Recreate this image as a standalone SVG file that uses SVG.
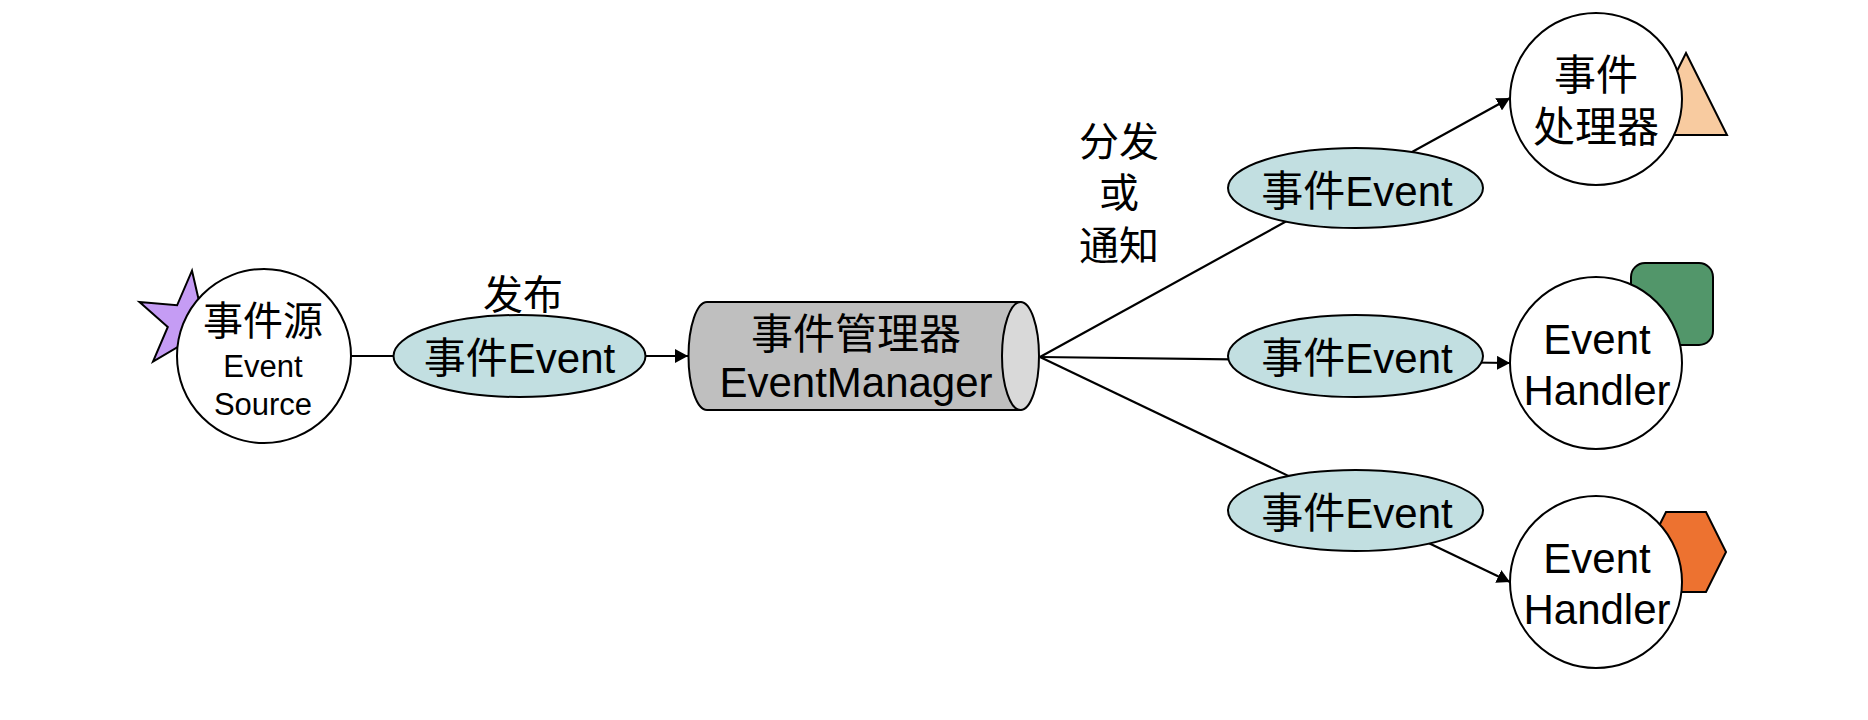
<svg xmlns="http://www.w3.org/2000/svg" width="1868" height="720" viewBox="0 0 1868 720">
<style>
text{font-family:"Liberation Sans","Noto Sans CJK SC",sans-serif;fill:#000;text-anchor:middle}
.c{fill:#fff;stroke:#000;stroke-width:2}
.ev{fill:#C2DFE1;stroke:#000;stroke-width:2}
.ln{stroke:#000;stroke-width:2.2;fill:none}
.deco{stroke:#000;stroke-width:2}
</style>
<defs>
<marker id="ah" markerUnits="userSpaceOnUse" markerWidth="14" markerHeight="14" refX="13" refY="7" orient="auto">
<path d="M0,0 L13,7 L0,14 Z" fill="#000"/>
</marker>
</defs>
<rect width="1868" height="720" fill="#fff"/>
<g id="connectors">
<line class="ln" x1="350" y1="356" x2="395" y2="356"/>
<line class="ln" x1="646" y1="356" x2="688" y2="356" marker-end="url(#ah)"/>
<line class="ln" x1="1040" y1="357" x2="1510" y2="98" marker-end="url(#ah)"/>
<line class="ln" x1="1040" y1="357" x2="1510" y2="363" marker-end="url(#ah)"/>
<line class="ln" x1="1040" y1="357" x2="1510" y2="582" marker-end="url(#ah)"/>
</g>
<g id="source">
<polygon class="deco" fill="#C59CF4" points="192,270.7 200.5,307.5 238,311 205.7,330.4 213.9,367.2 185.5,342.4 153,361.6 167.8,326.9 139.5,302 177.1,305.3"/>
<circle class="c" cx="264" cy="356" r="87"/>
<text x="263" y="335" font-size="40">事件源</text>
<text x="263" y="377" font-size="31">Event</text>
<text x="263" y="415" font-size="31">Source</text>
</g>
<g id="label-publish">
<text x="523" y="309" font-size="40">发布</text>
</g>
<g id="event1">
<ellipse class="ev" cx="519.5" cy="356" rx="126" ry="41"/>
<text x="519.5" y="373" font-size="42">事件Event</text>
</g>
<g id="manager">
<path d="M707,302 L1020.5,302 L1020.5,410 L707,410 A18.5,54 0 0 1 707,302 Z" fill="#BFBFBF" stroke="#000" stroke-width="2"/>
<ellipse cx="1020.5" cy="356" rx="18.5" ry="54" fill="#D9D9D9" stroke="#000" stroke-width="2"/>
<text x="856" y="349" font-size="42">事件管理器</text>
<text x="856" y="397" font-size="42">EventManager</text>
</g>
<g id="label-dispatch">
<text x="1119" y="156" font-size="40">分发</text>
<text x="1119" y="207" font-size="40">或</text>
<text x="1119" y="260" font-size="40">通知</text>
</g>
<g id="event-top">
<ellipse class="ev" cx="1355.5" cy="188" rx="127.5" ry="40"/>
<text x="1357" y="206" font-size="42">事件Event</text>
</g>
<g id="event-mid">
<ellipse class="ev" cx="1355.5" cy="356" rx="127.5" ry="41"/>
<text x="1357" y="373" font-size="42">事件Event</text>
</g>
<g id="event-bottom">
<ellipse class="ev" cx="1355.5" cy="510.5" rx="127.5" ry="40.5"/>
<text x="1357" y="528" font-size="42">事件Event</text>
</g>
<g id="handler-top">
<polygon class="deco" fill="#F8CBA0" points="1686,53 1727,135 1645,135"/>
<circle class="c" cx="1596" cy="99" r="86"/>
<text x="1596" y="90" font-size="42">事件</text>
<text x="1596" y="142" font-size="42">处理器</text>
</g>
<g id="handler-mid">
<rect class="deco" fill="#52966A" x="1631" y="263" width="82" height="82" rx="14"/>
<circle class="c" cx="1596" cy="363" r="86"/>
<text x="1597" y="354" font-size="42">Event</text>
<text x="1597" y="405" font-size="42">Handler</text>
</g>
<g id="handler-bottom">
<polygon class="deco" fill="#ED7230" points="1646,552 1666,512 1706,512 1726,552 1706,592 1666,592"/>
<circle class="c" cx="1596" cy="582" r="86"/>
<text x="1597" y="573" font-size="42">Event</text>
<text x="1597" y="624" font-size="42">Handler</text>
</g>
</svg>
